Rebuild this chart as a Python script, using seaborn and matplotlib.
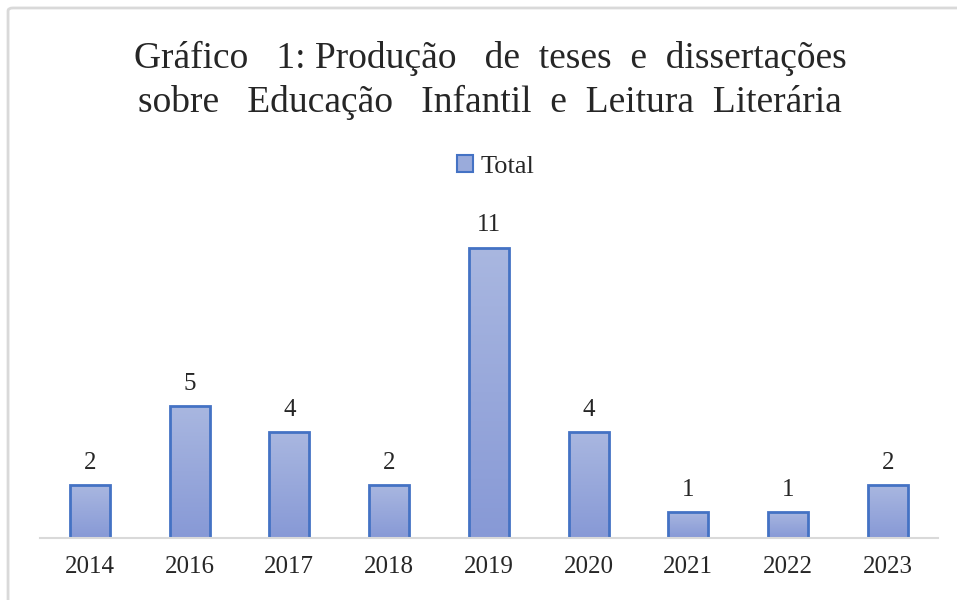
import numpy as np
import pandas as pd
import seaborn as sns
import matplotlib.pyplot as plt
from matplotlib.patches import FancyBboxPatch, Patch
from matplotlib.colors import LinearSegmentedColormap

# données du graphique
anos = ['2014', '2016', '2017', '2018', '2019', '2020', '2021', '2022', '2023']
total = [2, 5, 4, 2, 11, 4, 1, 1, 2]

df = pd.DataFrame({'Ano': anos, 'Total': total})

sns.set_style('white')
plt.rcParams['font.family'] = ['Liberation Serif', 'DejaVu Serif']

fig = plt.figure(figsize=(9.57, 6), dpi=100)
ax = fig.add_axes([0.0418, 0.1033, 0.938, 0.5634])

sns.barplot(data=df, x='Ano', y='Total', color='#9AABDB', width=0.4,
            edgecolor='#4472C4', linewidth=2, ax=ax, zorder=2)

# dégradé vertical dans chaque barre
cmap = LinearSegmentedColormap.from_list('grad', ['#A9B7E0', '#8799D6'])
grad = np.linspace(0, 1, 256).reshape(-1, 1)
for bar in ax.patches:
    x0, y0 = bar.get_x(), bar.get_y()
    w, h = bar.get_width(), bar.get_height()
    im = ax.imshow(grad, cmap=cmap, aspect='auto', origin='upper',
                   extent=[x0, x0 + w, y0, y0 + h], zorder=1.5)
    im.set_clip_path(bar)
    bar.set_facecolor('none')

ax.set_xlim(-0.5, 8.5)
ax.set_ylim(0, 12.8)

for i, v in enumerate(total):
    ax.text(i, v + 0.42, str(v), ha='center', va='bottom', fontsize=18, color='#262626')

ax.set_xlabel('')
ax.set_ylabel('')
ax.set_yticks([])
ax.tick_params(axis='x', labelsize=18, colors='#262626', length=0, pad=13)
for s in ['top', 'right', 'left']:
    ax.spines[s].set_visible(False)
ax.spines['bottom'].set_color('#D9D9D9')
ax.spines['bottom'].set_linewidth(1.5)

fig.text(0.512, 0.866,
         'Gráfico   1: Produção   de  teses  e  dissertações\nsobre   Educação   Infantil  e  Leitura  Literária',
         ha='center', va='center', fontsize=27, color='#262626', linespacing=1.33)

handle = Patch(facecolor='#9AABDB', edgecolor='#4472C4', linewidth=1.5, label='Total')
fig.legend(handles=[handle], loc='center', bbox_to_anchor=(0.518, 0.722), frameon=False,
           fontsize=19, handlelength=0.6, handleheight=0.6, handletextpad=0.3, labelcolor='#262626')

border = FancyBboxPatch((0.0084, -0.05), 1.1, 1.0367, boxstyle='round,pad=0,rounding_size=0.005',
                        transform=fig.transFigure, facecolor='none', edgecolor='#D9D9D9', linewidth=2)
fig.patches.append(border)

fig.savefig('out.png', dpi=100)
